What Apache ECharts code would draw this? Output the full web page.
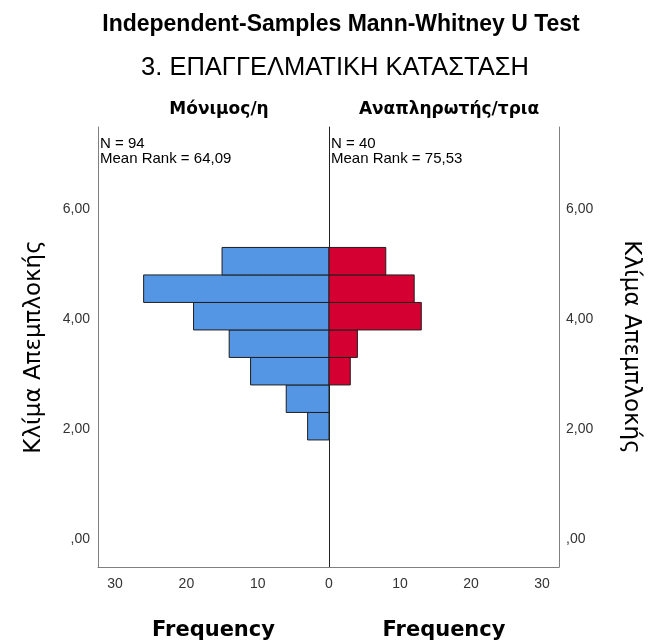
<!DOCTYPE html>
<html>
<head>
<meta charset="utf-8">
<script src="https://cdn.jsdelivr.net/npm/echarts@6/dist/echarts.min.js"></script>
<style>
  html, body { margin: 0; padding: 0; background: #fff; }
  #chart { width: 649px; height: 644px; }
</style>
</head>
<body>
<div id="chart"></div>
<script>
// Histogram bins of the score (lower edge, common width)
const binLow = [1.81, 2.31, 2.81, 3.31, 3.81, 4.31, 4.81];
const binWidth = 0.5;

// Frequencies per bin for each group
const groupNames = ['Μόνιμος/η', 'Αναπληρωτής/τρια'];
const freqPermanent = [3, 6, 11, 14, 19, 26, 15];
const freqSubstitute = [0, 0, 3, 4, 13, 12, 8];

// Group statistics
const groupN = [94, 40];
const meanRank = ['64,09', '75,53'];

// Axis ticks
const yTicks = [0, 2, 4, 6];
const xTicksLeft = [0, 10, 20, 30];
const xTicksRight = [10, 20, 30];

const yName = 'Κλίμα Απεμπλοκής';
const xName = 'Frequency';

const blue = '#5596e4';
const red = '#d50032';
const frameColor = '#7f7f7f';

function toRows(freq) {
  return binLow.map((lo, i) => [lo, lo + binWidth, freq[i]]);
}

function makeRender(color) {
  return function (params, api) {
    const lo = api.value(0), hi = api.value(1), f = api.value(2);
    if (!f) return null;
    const a = api.coord([0, lo]);
    const b = api.coord([f, hi]);
    return {
      type: 'rect',
      shape: {
        x: Math.min(a[0], b[0]),
        y: Math.min(a[1], b[1]),
        width: Math.abs(b[0] - a[0]),
        height: Math.abs(b[1] - a[1])
      },
      style: { fill: color, stroke: '#1e1e1e', lineWidth: 1 }
    };
  };
}

function fmtY(v) {
  let s = v.toFixed(2).replace('.', ',');
  if (s.startsWith('0,')) s = s.slice(1);
  return s;
}

const tickLabel = { color: '#333', fontFamily: 'Liberation Sans', fontSize: 14 };
const gridTop = 127, gridH = 440;
const yMin = -0.5, yMax = 7.5, xMax = 32.4;
const frameLine = { show: true, onZero: false, lineStyle: { color: frameColor, width: 1 } };
const nameFont = { fontFamily: 'DejaVu Sans', fontWeight: 'bold', fontSize: 21, color: '#000' };
const yNameFont = { fontFamily: 'DejaVu Sans', fontSize: 23, color: '#000' };
const statFont = { fontFamily: 'Liberation Sans', fontWeight: 'normal', fontSize: 15, lineHeight: 15, color: '#000' };
const headFont = { fontFamily: 'DejaVu Sans', fontWeight: 'bold', fontSize: 17, color: '#000' };

const chart = echarts.init(document.getElementById('chart'), null, { renderer: 'canvas' });
chart.setOption({
  animation: false,
  backgroundColor: '#fff',
  title: [
    { text: 'Independent-Samples Mann-Whitney U Test', left: 336, textAlign: 'center', top: 8,
      textStyle: { fontFamily: 'Liberation Sans', fontWeight: 'bold', fontSize: 23, color: '#000' } },
    { text: '3. ΕΠΑΓΓΕΛΜΑΤΙΚΗ ΚΑΤΑΣΤΑΣΗ', left: 330, textAlign: 'center', top: 50,
      textStyle: { fontFamily: 'Liberation Sans', fontWeight: 'normal', fontSize: 25.5, color: '#000' } },
    { text: groupNames[0], left: 214, textAlign: 'center', top: 96, textStyle: headFont },
    { text: groupNames[1], left: 444, textAlign: 'center', top: 96, textStyle: headFont },
    { text: 'N = ' + groupN[0] + '\nMean Rank = ' + meanRank[0], left: 100, top: 136, padding: 0, textStyle: statFont },
    { text: 'N = ' + groupN[1] + '\nMean Rank = ' + meanRank[1], left: 331, top: 136, padding: 0, textStyle: statFont }
  ],
  grid: [
    { left: 98, top: gridTop, width: 231, height: gridH, outerBoundsMode: 'none', containLabel: false },
    { left: 329, top: gridTop, width: 230, height: gridH, outerBoundsMode: 'none', containLabel: false }
  ],
  xAxis: [
    { type: 'value', gridIndex: 0, min: 0, max: xMax, inverse: true,
      axisLine: frameLine, axisTick: { show: false }, splitLine: { show: false },
      axisLabel: { ...tickLabel, margin: 10, customValues: xTicksLeft },
      name: xName, nameLocation: 'middle', nameGap: 53, nameTextStyle: nameFont },
    { type: 'value', gridIndex: 1, min: 0, max: xMax,
      axisLine: frameLine, axisTick: { show: false }, splitLine: { show: false },
      axisLabel: { ...tickLabel, margin: 10, customValues: xTicksRight },
      name: xName, nameLocation: 'middle', nameGap: 53, nameTextStyle: nameFont }
  ],
  yAxis: [
    { type: 'value', gridIndex: 0, position: 'left', min: yMin, max: yMax,
      axisLine: frameLine, axisTick: { show: false }, splitLine: { show: false },
      axisLabel: { ...tickLabel, margin: 8, customValues: yTicks, formatter: fmtY },
      name: yName, nameLocation: 'middle', nameGap: 52, nameRotate: 90, nameTextStyle: yNameFont },
    { type: 'value', gridIndex: 1, position: 'right', min: yMin, max: yMax,
      axisLine: frameLine, axisTick: { show: false }, splitLine: { show: false },
      axisLabel: { ...tickLabel, margin: 7, customValues: yTicks, formatter: fmtY },
      name: yName, nameLocation: 'middle', nameGap: 60, nameRotate: -90, nameTextStyle: yNameFont },
    { type: 'value', gridIndex: 1, position: 'left', min: yMin, max: yMax,
      axisLine: { show: true, onZero: false, lineStyle: { color: '#222', width: 1 } },
      axisTick: { show: false }, splitLine: { show: false }, axisLabel: { show: false } }
  ],
  series: [
    { type: 'custom', xAxisIndex: 0, yAxisIndex: 0, renderItem: makeRender(blue),
      encode: { x: 2, y: [0, 1] }, data: toRows(freqPermanent), z: 3 },
    { type: 'custom', xAxisIndex: 1, yAxisIndex: 1, renderItem: makeRender(red),
      encode: { x: 2, y: [0, 1] }, data: toRows(freqSubstitute), z: 3 }
  ]
});
</script>
</body>
</html>
